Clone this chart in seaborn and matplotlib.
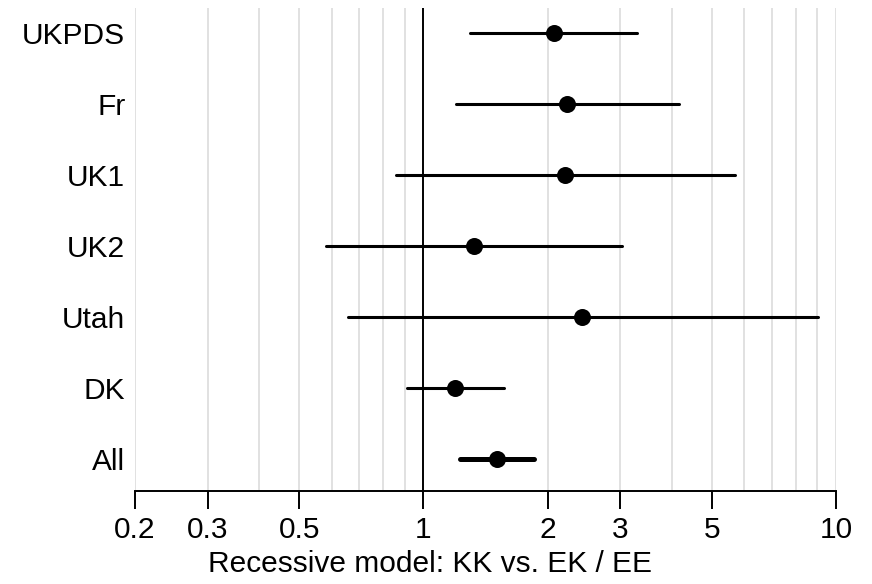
import numpy as np
import pandas as pd
import seaborn as sns
import matplotlib.pyplot as plt
from matplotlib.ticker import FixedLocator, NullFormatter, NullLocator

studies = ['UKPDS', 'Fr', 'UK1', 'UK2', 'Utah', 'DK', 'All']
odds_ratio = [2.07, 2.23, 2.20, 1.33, 2.43, 1.19, 1.505]
ci_low = [1.30, 1.20, 0.858, 0.58, 0.656, 0.911, 1.227]
ci_high = [3.29, 4.16, 5.69, 3.03, 9.03, 1.57, 1.857]

x_ticks = [0.2, 0.3, 0.5, 1, 2, 3, 5, 10]
x_tick_labels = ['0.2', '0.3', '0.5', '1', '2', '3', '5', '10']
grid_at = [0.2, 0.3, 0.4, 0.5, 0.6, 0.7, 0.8, 0.9, 1, 2, 3, 4, 5, 6, 7, 8, 9, 10]

df = pd.DataFrame({'study': studies, 'or': odds_ratio, 'lo': ci_low, 'hi': ci_high})
df['pos'] = np.arange(len(df))

sns.set_style('white')
plt.rcParams['font.family'] = ['Liberation Sans', 'DejaVu Sans']
plt.rcParams['text.color'] = 'black'
plt.rcParams['axes.labelcolor'] = 'black'
plt.rcParams['xtick.color'] = 'black'
plt.rcParams['ytick.color'] = 'black'

fig = plt.figure(figsize=(8.72, 5.84), dpi=100)
ax = fig.add_axes([135 / 872, 93 / 584, 701 / 872, 483 / 584])

ax.set_xscale('log')
ax.set_xlim(0.2, 10)
ax.set_ylim(6.45, -0.352)

# light grey grid behind everything
for g in grid_at:
    ax.axvline(g, color='#d9d9d9', lw=1.1, zorder=0)
ax.axvline(1, color='black', lw=1.4, zorder=1)

# confidence intervals, the pooled one a bit thicker
pooled = df['study'] == 'All'
ax.hlines(df.loc[~pooled, 'pos'], df.loc[~pooled, 'lo'], df.loc[~pooled, 'hi'],
          color='black', lw=2.2, capstyle='round', zorder=2)
ax.hlines(df.loc[pooled, 'pos'], df.loc[pooled, 'lo'], df.loc[pooled, 'hi'],
          color='black', lw=3.6, capstyle='round', zorder=2)

sns.scatterplot(data=df, x='or', y='pos', color='black', s=150, edgecolor='black',
                linewidth=0, zorder=3, ax=ax, legend=False)

ax.xaxis.set_major_locator(FixedLocator(x_ticks))
ax.xaxis.set_minor_locator(NullLocator())
ax.xaxis.set_minor_formatter(NullFormatter())
ax.set_xticklabels(x_tick_labels)
ax.set_yticks(df['pos'])
ax.set_yticklabels(df['study'])

ax.tick_params(axis='x', bottom=True, length=13, width=1.4, color='black',
               labelcolor='black', pad=5, labelsize=21.5)
ax.tick_params(axis='y', left=False, length=0, pad=7, labelcolor='black', labelsize=21.5)

for side in ['top', 'right', 'left']:
    ax.spines[side].set_visible(False)
ax.spines['bottom'].set_color('black')
ax.spines['bottom'].set_linewidth(1.4)

ax.set_xlabel('Recessive model: KK vs. EK / EE', fontsize=21.5, labelpad=4, color='black')
ax.xaxis.label.set_x(0.421)  # label sits a little left of the axis centre
ax.set_ylabel('')

fig.savefig('out.png', dpi=100)
